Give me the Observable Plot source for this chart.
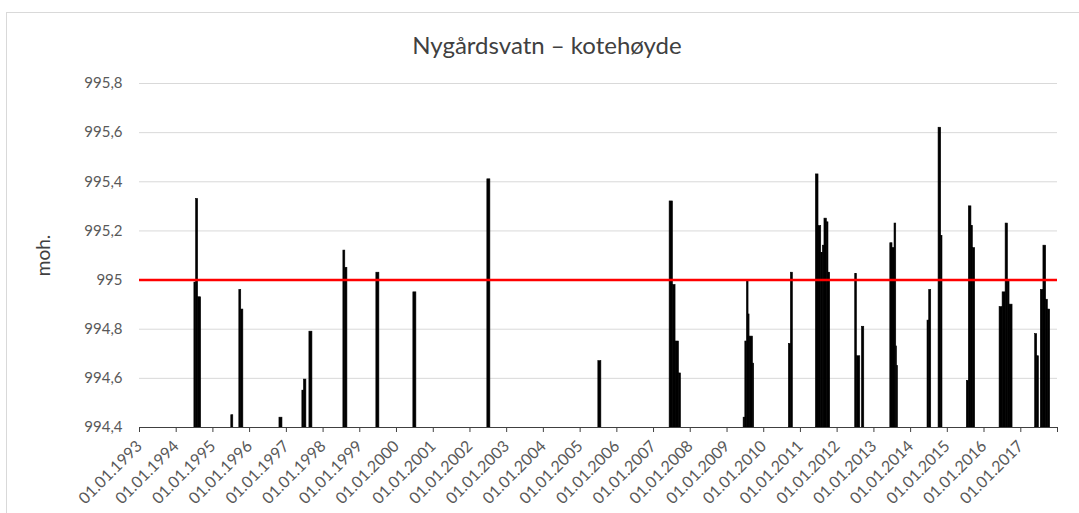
<!DOCTYPE html>
<html>
<head>
<meta charset="utf-8">
<script src="https://cdn.jsdelivr.net/npm/d3@7"></script>
<script src="https://cdn.jsdelivr.net/npm/@observablehq/plot@0.6"></script>
<style>
  html, body { margin: 0; padding: 0; background: #fff; }
  #wrap { position: relative; width: 1079px; height: 513px; overflow: hidden; font-family: Lato, "Open Sans", sans-serif; }
  #frame { position: absolute; left: 6px; top: 12px; width: 1200px; height: 600px; border: 1px solid #d9d9d9; box-sizing: border-box; }
  #title { position: absolute; left: 547px; top: 29px; transform: translateX(-50%); white-space: nowrap; font-size: 24px; line-height: 32px; color: #404040; }
  #chart { position: absolute; left: 0; top: 0; }
</style>
</head>
<body>
<div id="wrap">
  <div id="frame"></div>
  <div id="chart"></div>
  <div id="title">Nygårdsvatn – kotehøyde</div>
</div>
<script>
// Water level segments (start date, end date, level in moh.)
const segStart = [
  "1994-07-01","1994-07-18","1994-08-07",
  "1995-07-03",
  "1995-09-21","1995-10-10",
  "1996-10-24",
  "1997-06-09","1997-06-25",
  "1997-08-18",
  "1998-07-22","1998-08-10",
  "1999-06-15",
  "2000-06-17",
  "2002-06-23",
  "2005-07-01",
  "2007-06-10","2007-07-13","2007-08-08","2007-09-11",
  "2009-06-15","2009-07-02","2009-07-18","2009-08-03","2009-08-13","2009-09-16",
  "2010-09-08","2010-09-28",
  "2011-06-04","2011-06-30","2011-07-27","2011-08-12","2011-08-28","2011-09-21","2011-10-07",
  "2012-06-29","2012-07-16","2012-09-04",
  "2013-06-13","2013-07-05","2013-07-25","2013-08-11","2013-08-18",
  "2014-06-18","2014-07-05",
  "2014-10-06","2014-11-01",
  "2015-07-14","2015-08-03","2015-08-29","2015-09-12",
  "2016-06-04","2016-07-04","2016-08-03","2016-08-26","2016-09-11",
  "2017-05-24","2017-06-13","2017-07-19","2017-08-14","2017-09-10","2017-09-27"
];
const segEnd = [
  "1994-07-18","1994-08-07","1994-09-06",
  "1995-07-23",
  "1995-10-10","1995-10-31",
  "1996-11-23",
  "1997-06-25","1997-07-19",
  "1997-09-17",
  "1998-08-10","1998-08-31",
  "1999-07-15",
  "2000-07-17",
  "2002-07-23",
  "2005-07-31",
  "2007-07-13","2007-08-08","2007-09-11","2007-10-01",
  "2009-07-02","2009-07-18","2009-08-03","2009-08-13","2009-09-16","2009-09-28",
  "2010-09-28","2010-10-18",
  "2011-06-30","2011-07-27","2011-08-12","2011-08-28","2011-09-21","2011-10-07","2011-10-24",
  "2012-07-16","2012-08-18","2012-09-27",
  "2013-07-05","2013-07-25","2013-08-11","2013-08-18","2013-08-28",
  "2014-07-05","2014-07-25",
  "2014-11-01","2014-11-14",
  "2015-08-03","2015-08-29","2015-09-12","2015-10-05",
  "2016-07-04","2016-08-03","2016-08-26","2016-09-11","2016-10-11",
  "2017-06-13","2017-06-30","2017-08-14","2017-09-10","2017-09-27","2017-10-20"
];
const segValue = [
  994.99, 995.33, 994.93,
  994.45,
  994.96, 994.88,
  994.44,
  994.55, 994.595,
  994.79,
  995.12, 995.05,
  995.03,
  994.95,
  995.41,
  994.67,
  995.32, 994.98, 994.75, 994.62,
  994.44, 994.75, 995.00, 994.86, 994.77, 994.66,
  994.74, 995.03,
  995.43, 995.22, 995.11, 995.14, 995.25, 995.235, 995.03,
  995.025, 994.69, 994.81,
  995.15, 995.13, 995.23, 994.73, 994.65,
  994.835, 994.96,
  995.62, 995.18,
  994.59, 995.30, 995.22, 995.13,
  994.89, 994.95, 995.23, 995.00, 994.90,
  994.78, 994.69, 994.96, 995.14, 994.92, 994.88
];

const threshold = 995;            // regulation level (red line)
const yMin = 994.4, yMax = 995.8;
const yTicks = [994.4, 994.6, 994.8, 995.0, 995.2, 995.4, 995.6, 995.8];
const tickYears = [1993,1994,1995,1996,1997,1998,1999,2000,2001,2002,2003,2004,2005,
                   2006,2007,2008,2009,2010,2011,2012,2013,2014,2015,2016,2017,2018];
const labeledYears = tickYears.slice(0, -1);

const data = segStart.map((s, i) => ({
  start: new Date(s + "T00:00:00Z"),
  end: new Date(segEnd[i] + "T00:00:00Z"),
  value: segValue[i]
}));
const xTicks = tickYears.map(y => new Date(Date.UTC(y, 0, 1)));

const fmtY = d => String(+d.toFixed(1)).replace(".", ",");
const fmtX = d => labeledYears.includes(d.getUTCFullYear()) ? `01.01.${d.getUTCFullYear()}` : "";

const chart = Plot.plot({
  width: 1079,
  height: 513,
  marginLeft: 139,
  marginRight: 22,
  marginTop: 83,
  marginBottom: 86,
  style: { fontFamily: "Lato, 'Open Sans', sans-serif", fontSize: "15px", background: "transparent", color: "#595959" },
  x: { type: "utc", domain: [xTicks[0], xTicks[xTicks.length - 1]] },
  y: { domain: [yMin, yMax] },
  marks: [
    Plot.gridY(yTicks, { stroke: "#d9d9d9", strokeOpacity: 1, strokeWidth: 1 }),
    Plot.rect(data, { x1: "start", x2: "end", y1: yMin, y2: "value", fill: "black", stroke: "black", strokeWidth: 0.6 }),
    Plot.ruleY([threshold], { stroke: "#ff0000", strokeWidth: 2.5 }),
    Plot.ruleY([yMin], { stroke: "#404040", strokeWidth: 1 }),
    Plot.axisY(yTicks, { tickSize: 0, tickPadding: 17, tickFormat: fmtY, label: null, fill: "#595959" }),
    Plot.axisX(xTicks, { tickSize: 5, tickPadding: 11, tickRotate: -45, tickFormat: fmtX, label: null, fontSize: 16, stroke: "#404040", fill: "#595959" }),
    Plot.text(["moh."], { frameAnchor: "left", textAnchor: "middle", dx: -96, rotate: -90, fontSize: 19, fill: "#404040" })
  ]
});
document.getElementById("chart").appendChild(chart);
</script>
</body>
</html>
